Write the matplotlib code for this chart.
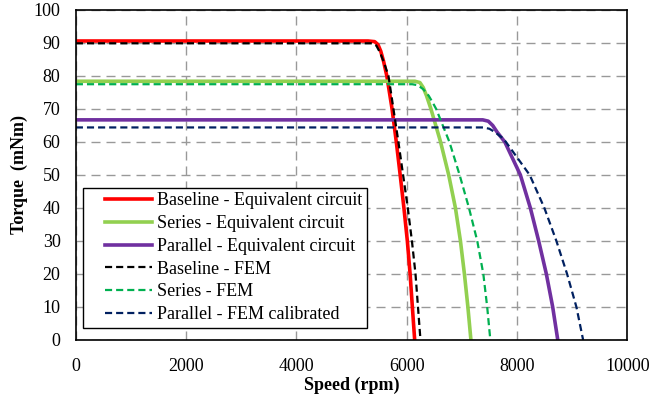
import numpy as np
import matplotlib.pyplot as plt
from matplotlib.legend_handler import HandlerLine2D

plt.rcParams["font.family"] = ["Liberation Serif", "DejaVu Serif"]

# speed (rpm) / torque (mNm) points
base_ec_speed = [0, 5300, 5420, 5480, 5530, 5580, 5640, 5735, 5812, 5882, 5950, 6012, 6062, 6103, 6145]
base_ec_torque = [90.6, 90.6, 90.4, 89.5, 87.5, 84.5, 80, 70, 60, 50, 40, 30, 20, 10, 0]

series_ec_speed = [0, 6150, 6240, 6300, 6360, 6440, 6615, 6762, 6884, 6975, 7047, 7110, 7165]
series_ec_torque = [78.4, 78.4, 78.0, 76.5, 74.0, 70, 60, 50, 40, 30, 20, 10, 0]

par_ec_speed = [0, 7380, 7480, 7560, 7640, 7780, 8062, 8243, 8394, 8533, 8648, 8740]
par_ec_torque = [66.7, 66.7, 66.3, 65.0, 63.0, 60, 50, 40, 30, 20, 10, 0]

base_fem_speed = [0, 5380, 5450, 5520, 5590, 5670, 5760, 5850, 5935, 6020, 6095, 6160, 6205, 6250]
base_fem_torque = [89.9, 89.9, 89.2, 87.0, 84.0, 80, 70, 60, 50, 40, 30, 20, 10, 0]

series_fem_speed = [0, 6100, 6200, 6300, 6400, 6470, 6535, 6775, 6960, 7130, 7280, 7390, 7460, 7517]
series_fem_torque = [77.5, 77.5, 77.2, 76.0, 74.0, 72.0, 70, 60, 50, 40, 30, 20, 10, 0]

par_fem_speed = [0, 7390, 7500, 7600, 7730, 7800, 8231, 8497, 8715, 8909, 9078, 9200]
par_fem_torque = [64.4, 64.4, 64.0, 63.0, 61.3, 60, 50, 40, 30, 20, 10, 0]

x_ticks = [0, 2000, 4000, 6000, 8000, 10000]
y_ticks = [0, 10, 20, 30, 40, 50, 60, 70, 80, 90, 100]


class PaddedLine(HandlerLine2D):
    # legend line drawn only in the right part of the handle box (leaves a left margin)
    def get_xdata(self, legend, xdescent, ydescent, width, height, fontsize):
        xd, xm = super().get_xdata(legend, xdescent, ydescent, width, height, fontsize)
        lead = 0.27 * width
        return np.array([-xdescent + lead, -xdescent + width]), xm


def main():
    fig = plt.figure(figsize=(6.51, 3.99), dpi=100)
    ax = fig.add_axes([0.1165, 0.148, 0.847, 0.827])

    dash = (0, (3.2, 1.8))
    ax.plot(base_ec_speed, base_ec_torque, color="#FF0000", lw=2.6,
            label="Baseline - Equivalent circuit")
    ax.plot(series_ec_speed, series_ec_torque, color="#92D050", lw=2.6,
            label="Series - Equivalent circuit")
    ax.plot(par_ec_speed, par_ec_torque, color="#7030A0", lw=2.6,
            label="Parallel - Equivalent circuit")
    ax.plot(base_fem_speed, base_fem_torque, color="black", lw=1.6,
            ls=dash, label="Baseline - FEM")
    ax.plot(series_fem_speed, series_fem_torque, color="#00B050", lw=1.6,
            ls=dash, label="Series - FEM")
    ax.plot(par_fem_speed, par_fem_torque, color="#002060", lw=1.6,
            ls=dash, label="Parallel - FEM calibrated")

    ax.set_xlim(0, 10000)
    ax.set_ylim(0, 100)
    ax.set_xticks(x_ticks)
    ax.set_yticks(y_ticks)
    ax.tick_params(labelsize=13, length=0)
    ax.tick_params(axis="x", pad=13)
    ax.tick_params(axis="y", pad=11)
    ax.grid(True, color="#999999", ls=(0, (6.5, 4.3)), lw=1.0)
    ax.set_axisbelow(True)
    for s in ax.spines.values():
        s.set_color("black")
        s.set_linewidth(1.2)

    ax.set_xlabel("Speed (rpm)", fontsize=13, fontweight="bold", labelpad=1)
    ax.set_ylabel("Torque  (mNm)", fontsize=13, fontweight="bold", labelpad=4)

    leg = ax.legend(loc="lower left", bbox_to_anchor=(0.0125, 0.037), fontsize=13,
                    frameon=True, fancybox=False, framealpha=1, edgecolor="black",
                    handlelength=3.6, handletextpad=0.28, labelspacing=0.32,
                    borderpad=0.25, borderaxespad=0,
                    handler_map={plt.Line2D: PaddedLine()})
    leg.get_frame().set_linewidth(1.0)

    fig.savefig("out.png", dpi=100)
    plt.close()
    return 0


main()
